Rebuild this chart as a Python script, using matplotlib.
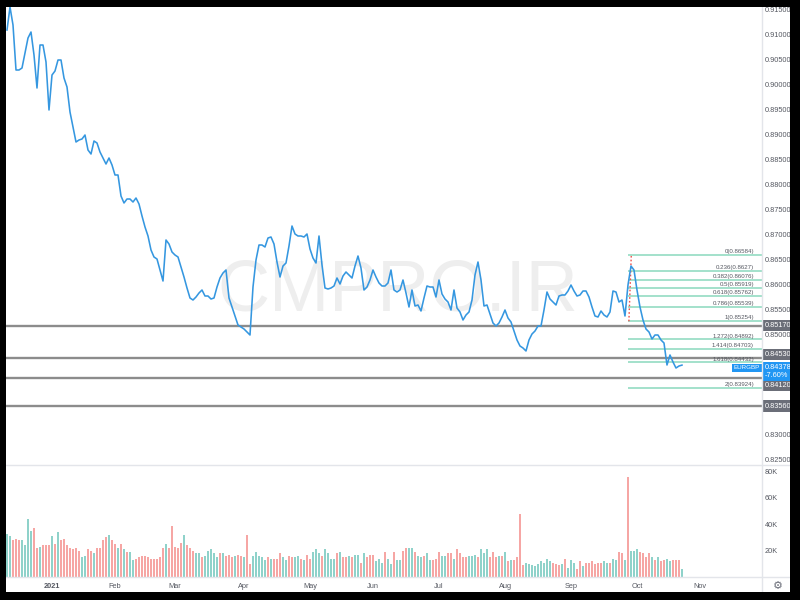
import numpy as np
import pandas as pd
import matplotlib
matplotlib.use('Agg')
import matplotlib.pyplot as plt
from matplotlib.patches import Rectangle
from matplotlib.lines import Line2D
from matplotlib.transforms import blended_transform_factory

plt.rcParams['font.family'] = ['Liberation Sans', 'DejaVu Sans']

# daily bars (weekdays), EURGBP
dates = pd.bdate_range('2020-12-11', '2021-10-22')
axis_days = pd.bdate_range('2020-12-11', '2021-11-30')

close = [
    0.9108, 0.9154, 0.9118, 0.9028, 0.9028, 0.9032, 0.9062, 0.9092, 0.9104, 0.9058,
    0.8992, 0.9078, 0.9078, 0.9044, 0.8948, 0.9018, 0.9026, 0.9048, 0.9048, 0.9012,
    0.8994, 0.8944, 0.8914, 0.8884, 0.8888, 0.8890, 0.8898, 0.8868, 0.8860, 0.8886,
    0.8882, 0.8864, 0.8852, 0.8840, 0.8852, 0.8838, 0.8818, 0.8818, 0.8776, 0.8762,
    0.8770, 0.8770, 0.8764, 0.8772, 0.8760, 0.8736, 0.8714, 0.8696, 0.8668, 0.8654,
    0.8650, 0.8628, 0.8606, 0.8688, 0.8680, 0.8664, 0.8658, 0.8654, 0.8634, 0.8614,
    0.8592, 0.8572, 0.8568, 0.8574, 0.8582, 0.8588, 0.8576, 0.8576, 0.8570, 0.8572,
    0.8594, 0.8612, 0.8622, 0.8628, 0.8572, 0.8554, 0.8536, 0.8518, 0.8514, 0.8510,
    0.8504, 0.8498, 0.8594, 0.8648, 0.8678, 0.8678, 0.8674, 0.8692, 0.8694, 0.8680,
    0.8644, 0.8614, 0.8636, 0.8642, 0.8676, 0.8716, 0.8700, 0.8696, 0.8696, 0.8694,
    0.8700, 0.8670, 0.8652, 0.8642, 0.8696, 0.8638, 0.8592, 0.8590, 0.8592, 0.8596,
    0.8612, 0.8600, 0.8616, 0.8624, 0.8618, 0.8612, 0.8636, 0.8656, 0.8632, 0.8588,
    0.8594, 0.8608, 0.8628, 0.8614, 0.8602, 0.8596, 0.8596, 0.8602, 0.8628, 0.8588,
    0.8584, 0.8588, 0.8608, 0.8582, 0.8554, 0.8588, 0.8556, 0.8558, 0.8546, 0.8572,
    0.8596, 0.8594, 0.8594, 0.8574, 0.8608, 0.8580, 0.8570, 0.8564, 0.8548, 0.8588,
    0.8552, 0.8544, 0.8528, 0.8538, 0.8544, 0.8568, 0.8618, 0.8644, 0.8608, 0.8556,
    0.8558, 0.8540, 0.8522, 0.8516, 0.8522, 0.8534, 0.8548, 0.8532, 0.8524, 0.8506,
    0.8488, 0.8476, 0.8472, 0.8466, 0.8488, 0.8500, 0.8506, 0.8516, 0.8516, 0.8548,
    0.8584, 0.8570, 0.8564, 0.8558, 0.8576, 0.8578, 0.8578, 0.8586, 0.8598, 0.8586,
    0.8576, 0.8578, 0.8586, 0.8586, 0.8574, 0.8554, 0.8536, 0.8534, 0.8546, 0.8538,
    0.8534, 0.8544, 0.8586, 0.8584, 0.8564, 0.8568, 0.8536, 0.8598, 0.8636, 0.8628,
    0.8588, 0.8554, 0.8528, 0.8510, 0.8504, 0.8490, 0.8498, 0.8498, 0.8488, 0.8482,
    0.8438, 0.8458, 0.8444, 0.8432, 0.8436, 0.84378,
]

# volume in thousands
volume_k = [
    33, 31, 28, 29, 28, 28, 24, 44, 35, 37,
    22, 23, 24, 24, 24, 31, 25, 34, 28, 29,
    24, 22, 21, 22, 20, 15, 16, 21, 20, 18,
    22, 22, 28, 30, 32, 28, 25, 22, 25, 21,
    19, 19, 13, 14, 15, 16, 16, 15, 14, 14,
    14, 15, 22, 25, 22, 39, 23, 22, 26, 32,
    24, 22, 20, 18, 18, 15, 16, 20, 21, 18,
    15, 18, 18, 16, 17, 15, 16, 17, 16, 15,
    32, 10, 16, 19, 16, 15, 13, 15, 14, 14,
    14, 18, 15, 13, 16, 15, 15, 16, 14, 13,
    17, 14, 19, 21, 18, 16, 21, 18, 14, 14,
    18, 19, 15, 15, 16, 15, 17, 17, 11, 18,
    15, 17, 17, 12, 14, 11, 19, 14, 10, 19,
    13,
    13, 20, 22, 22, 22, 19, 16, 15, 16, 18,
    13, 13, 14, 19, 16, 16, 18, 18, 14, 21,
    18, 15, 15, 16, 16, 17, 15, 21, 18, 21,
    15, 19, 15, 16, 16, 19, 12, 13, 13, 15,
    48,
    9, 11, 10, 9, 8, 10, 12, 11, 14, 12,
    11, 10, 9, 10, 14, 7, 13, 11, 6, 12,
    8, 11, 11, 12, 10, 11, 11, 12, 11, 11,
    14, 13, 19, 18, 13,
    76,
    20, 20, 21, 19, 18, 15, 18, 15, 13, 15,
    12, 13, 14, 12, 13, 13, 13, 6,
]

# u = up bar, d = down bar
volume_dir = ''.join([
    'uuddduuuud', 'dudddududd', 'ddddduuddu', 'dddduddudu',
    'duuddddddd', 'dddudddddu', 'ddduuduuuu', 'ududdduddu',
    'dduuuuudud', 'dduudduudu', 'dduuuduuuu', 'dudduduudu',
    'ddduuuduud', 'u',
    'udduuduudu', 'uddduuddud', 'ddduuuduuu', 'dddudududd',
    'd',
    'duuuuuuuuu', 'ddduduuudd', 'udddddduud', 'uuddu',
    'd',
    'uuuddddudu', 'dduudddu',
])

levels = [0.85170, 0.84530, 0.84120, 0.83560]
# vertical nudge (points) of the axis labels, pushed apart by the last-price label
level_nudge = [0, 2.0, -5.5, 0]

fib_labels = ['0(0.86584)', '0.236(0.8627)', '0.382(0.86076)', '0.5(0.85919)',
              '0.618(0.85762)', '0.786(0.85539)', '1(0.85254)', '1.272(0.84892)',
              '1.414(0.84703)', '1.618(0.84432)', '2(0.83924)']
fib_prices = [0.86584, 0.86270, 0.86076, 0.85919, 0.85762, 0.85539, 0.85254,
              0.84892, 0.84703, 0.84432, 0.83924]
fib_from, fib_to = '2021-09-28', '2021-09-29'

symbol = 'EURGBP'
last_price = 0.84378
change = '-7.60%'
watermark = 'CMPRO.IR'

assert len(close) == len(dates) == len(volume_k) == len(volume_dir)

x = np.arange(len(dates))
W, H = 800, 600

fig = plt.figure(figsize=(8, 6), dpi=100, facecolor='white')
ax = fig.add_axes([6 / W, 1 - 465 / H, 756 / W, 465 / H])
axv = fig.add_axes([6 / W, 1 - 577 / H, 756 / W, 112 / H], sharex=ax)

text_col = '#555861'
grid_col = '#e3e5ea'

# price pane
ax.plot(x, close, color='#3597e0', lw=1.15, zorder=4, solid_joinstyle='round')
for lv in levels:
    ax.axhline(lv, color='#8c8c8c', lw=1.7, zorder=2)

f0 = dates.get_loc(pd.Timestamp(fib_from))
f1 = dates.get_loc(pd.Timestamp(fib_to))
ax.hlines(fib_prices, f0, 260, color='#93dcc2', lw=1.2, zorder=3)
ax.plot([f0 + 0.3, f1 + 0.1], [fib_prices[6], fib_prices[0]], color='#f0504a',
        lw=1.0, ls=(0, (1.2, 1.5)), zorder=3)
bt = blended_transform_factory(ax.transAxes, ax.transData)
for lab, p in zip(fib_labels, fib_prices):
    ax.annotate(lab, xy=(0.9895, p), xycoords=bt, xytext=(0, 0.6),
                textcoords='offset points', ha='right', va='bottom',
                fontsize=4.4, color=text_col, zorder=5)

ax.text(0.5185, 0.372, watermark, transform=ax.transAxes, ha='center',
        va='center', fontsize=52, color='#eeeeee', zorder=0)

ax.set_xlim(-1 / 3, 251.67)
ax.set_ylim(0.8238, 0.9168)
ax.yaxis.tick_right()
# labels that sit under the price boxes are hidden, as on the screen
boxed = levels + [last_price]
yt = [t for t in np.arange(0.825, 0.9151, 0.005)
      if min(abs(t - b) for b in boxed) > 0.0013]
ax.set_yticks(yt)
ax.yaxis.set_major_formatter(plt.FormatStrFormatter('%.5f'))
ax.tick_params(axis='y', length=0, pad=2.2, labelsize=5.3, labelcolor=text_col)
ax.tick_params(axis='x', length=0, labelbottom=False)
for s in ax.spines.values():
    s.set_visible(False)

# axis price boxes
for lv, dy in zip(levels, level_nudge):
    ax.annotate(f'{lv:.5f}', xy=(1, lv), xycoords=bt, xytext=(2.2, dy),
                textcoords='offset points', ha='left', va='center',
                fontsize=5.3, color='white', zorder=6, annotation_clip=False,
                bbox=dict(boxstyle='square,pad=0.3', fc='#6b6e78', ec='none'))
ax.annotate(f'{last_price:.5f}\n{change}', xy=(1, last_price), xycoords=bt,
            xytext=(2.2, 0.6), textcoords='offset points', ha='left', va='top',
            fontsize=5.3, color='white', zorder=7, annotation_clip=False,
            linespacing=1.2,
            bbox=dict(boxstyle='square,pad=0.25', fc='#2196f3', ec='none'))
ax.annotate(symbol, xy=(1, last_price), xycoords=bt, xytext=(-1.6, -2.0),
            textcoords='offset points', ha='right', va='center',
            fontsize=4.5, color='white', zorder=7,
            bbox=dict(boxstyle='square,pad=0.3', fc='#2196f3', ec='none'))

# volume pane
up_col, dn_col = '#8fd2ca', '#f6a6a4'
axv.bar(x, volume_k, width=0.72, color=[up_col if d == 'u' else dn_col for d in volume_dir],
        zorder=2)
axv.set_ylim(0, 85)
axv.yaxis.tick_right()
axv.set_yticks([20, 40, 60, 80])
axv.set_yticklabels(['20K', '40K', '60K', '80K'])
axv.tick_params(axis='y', length=0, pad=2.2, labelsize=5.3, labelcolor=text_col)

months = pd.date_range('2021-01-01', '2021-11-01', freq='MS')
tick_pos = [int(np.searchsorted(axis_days, m)) for m in months]
tick_lab = ['2021' if m.month == 1 else m.strftime('%b') for m in months]
axv.set_xticks(tick_pos)
axv.set_xticklabels(tick_lab)
axv.tick_params(axis='x', length=0, pad=4.5, labelsize=5.3, labelcolor=text_col)
axv.get_xticklabels()[0].set_fontweight('bold')
for s in axv.spines.values():
    s.set_visible(False)

# pane separators
for y0 in (465, 577):
    fig.add_artist(Line2D([6 / W, 790 / W], [1 - y0 / H] * 2, color=grid_col, lw=1.0,
                          transform=fig.transFigure, zorder=3))
fig.add_artist(Line2D([762 / W] * 2, [0, 1], color=grid_col, lw=1.0,
                      transform=fig.transFigure, zorder=3))
fig.text(778 / W, 1 - 586 / H, '\u2699', ha='center', va='center', fontsize=8,
         color='#6a6d78', family='DejaVu Sans')

# black frame of the screenshot
for r in [(0, 0, 800, 7), (0, 0, 6, 600), (790, 0, 10, 600), (0, 592, 800, 8)]:
    fig.add_artist(Rectangle((r[0] / W, 1 - (r[1] + r[3]) / H), r[2] / W, r[3] / H,
                             transform=fig.transFigure, fc='black', ec='none',
                             zorder=20))

fig.savefig('out.png', dpi=100, facecolor='white')
